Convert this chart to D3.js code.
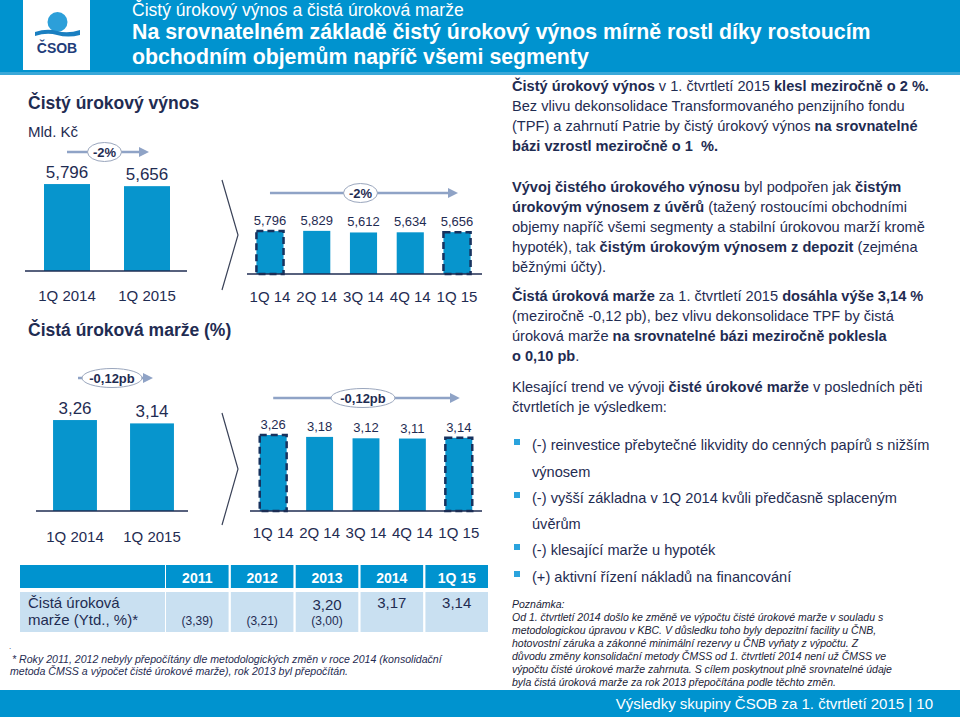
<!DOCTYPE html>
<html>
<head>
<meta charset="utf-8">
<script src="https://cdn.jsdelivr.net/npm/d3@7"></script>
<style>
  body { margin: 0; background: #fff; }
  svg { display: block; font-family: "Liberation Sans", Arial, sans-serif; }
</style>
</head>
<body>
<svg id="slide" width="960" height="717"></svg>
<script>
// --- data ---
var yearCats = ["1Q 2014", "1Q 2015"];
var quarterCats = ["1Q 14", "2Q 14", "3Q 14", "4Q 14", "1Q 15"];
var niiYear = [5.796, 5.656];
var niiQuarter = [5.796, 5.829, 5.612, 5.634, 5.656];
var nimYear = [3.26, 3.14];
var nimQuarter = [3.26, 3.18, 3.12, 3.11, 3.14];
var tableCols = ["2011", "2012", "2013", "2014", "1Q 15"];
var tableMain = [null, null, 3.20, 3.17, 3.14];
var tableOld = [3.39, 3.21, 3.00, null, null];

var BLUE = "#0795cd", NAVY = "#1f2c52", ARROW = "#8fa3c6";

var cz = d3.formatLocale({decimal: ",", thousands: " ", grouping: [3], currency: ["", ""]});
var f3 = cz.format(".3f"), f2 = cz.format(".2f");

var svg = d3.select("#slide");

// arrow head
svg.append("defs").append("marker")
    .attr("id", "head").attr("viewBox", "0 0 10 10")
    .attr("refX", 5).attr("refY", 5)
    .attr("markerWidth", 4).attr("markerHeight", 4)
    .attr("orient", "auto")
  .append("path").attr("d", "M0,0L10,5L0,10Z").attr("fill", ARROW);

// header band
svg.append("rect").attr("x", 0).attr("y", 0).attr("width", 960).attr("height", 75).attr("fill", "#0093cf");
svg.append("rect").attr("x", 0).attr("y", 72).attr("width", 960).attr("height", 3).attr("fill", "#3aa8d8");
svg.append("rect").attr("x", 23).attr("y", 0).attr("width", 67).attr("height", 70).attr("fill", "#fff");
svg.append("circle").attr("cx", 57.5).attr("cy", 22).attr("r", 10).attr("fill", "#2c9fd9");
svg.append("path").attr("d", "M35,32 Q47,28 57,31 Q68,34 80,30 L80,35 Q68,38 57,35 Q47,32 35,36Z").attr("fill", "#1a7fc1");
svg.append("text").attr("x", 57).attr("y", 53).attr("text-anchor", "middle")
    .attr("font-size", 14).attr("font-weight", "bold").attr("fill", "#1f3d7a").text("ČSOB");

svg.append("text").attr("x", 132).attr("y", 16).attr("font-size", 17.5).attr("fill", "#fff")
    .text("Čistý úrokový výnos a čistá úroková marže");
svg.append("text").attr("x", 132).attr("y", 39).attr("font-size", 21.3).attr("font-weight", "bold").attr("fill", "#fff")
    .text("Na srovnatelném základě čistý úrokový výnos mírně rostl díky rostoucím");
svg.append("text").attr("x", 132).attr("y", 64).attr("font-size", 21.3).attr("font-weight", "bold").attr("fill", "#fff")
    .text("obchodním objemům napříč všemi segmenty");

// section titles
svg.append("text").attr("x", 28).attr("y", 109).attr("font-size", 17.5).attr("font-weight", "bold").attr("fill", NAVY)
    .text("Čistý úrokový výnos");
svg.append("text").attr("x", 28).attr("y", 137).attr("font-size", 15).attr("fill", NAVY).text("Mld. Kč");
svg.append("text").attr("x", 28).attr("y", 336).attr("font-size", 17.5).attr("font-weight", "bold").attr("fill", NAVY)
    .text("Čistá úroková marže (%)");

function barChart(o) {
  var g = svg.append("g");
  var x = d3.scaleBand().domain(o.cats).range(o.xr).paddingInner(o.pad).paddingOuter(o.pad / 2);
  var y = d3.scaleLinear().domain([0, o.max]).range([o.base, o.base - o.max * o.k]);

  g.selectAll("rect.bar").data(o.vals).join("rect")
      .attr("class", "bar")
      .attr("x", function (d, i) { return x(o.cats[i]); })
      .attr("y", function (d) { return y(d); })
      .attr("width", x.bandwidth())
      .attr("height", function (d) { return y(0) - y(d); })
      .attr("fill", BLUE)
      .attr("stroke", function (d, i) { return o.dashed.indexOf(i) >= 0 ? "#17325e" : "none"; })
      .attr("stroke-width", 2.5)
      .attr("stroke-dasharray", "7,4");

  g.selectAll("text.val").data(o.vals).join("text")
      .attr("class", "val")
      .attr("x", function (d, i) { return x(o.cats[i]) + x.bandwidth() / 2; })
      .attr("y", function (d) { return y(d) - 6; })
      .attr("text-anchor", "middle").attr("font-size", o.fs).attr("fill", NAVY)
      .text(function (d) { return o.fmt(d); });

  var ax = g.append("g").attr("transform", "translate(0," + o.base + ")")
      .call(d3.axisBottom(x).tickSize(0).tickSizeOuter(0));
  ax.select(".domain").attr("stroke", NAVY).attr("stroke-width", 1.3)
      .attr("d", "M" + o.lineX[0] + ",0H" + o.lineX[1]);
  ax.selectAll(".tick text").attr("y", o.labelY - o.base).attr("dy", 0)
      .attr("font-size", 15).attr("fill", NAVY).attr("font-family", "Liberation Sans, Arial, sans-serif");

  // change arrow
  var x0 = x(o.cats[0]) + x.bandwidth() / 2, x1 = x(o.cats[o.cats.length - 1]) + x.bandwidth() / 2;
  var ax0 = o.arrowX ? o.arrowX[0] : x0, ax1 = o.arrowX ? o.arrowX[1] : x1;
  g.append("line").attr("x1", ax0).attr("x2", ax1 - 4).attr("y1", o.arrowY).attr("y2", o.arrowY)
      .attr("stroke", ARROW).attr("stroke-width", 2.5).attr("marker-end", "url(#head)");
  var mid = (ax0 + ax1) / 2 - 3;
  g.append("ellipse").attr("cx", mid).attr("cy", o.arrowY).attr("rx", o.rx).attr("ry", 9.5)
      .attr("fill", "#fff").attr("stroke", "#9aa6bd").attr("stroke-width", 1);
  g.append("text").attr("x", mid).attr("y", o.arrowY + 4.5).attr("text-anchor", "middle")
      .attr("font-size", 13).attr("font-weight", "bold").attr("fill", NAVY).text(o.change);
}

barChart({cats: yearCats, vals: niiYear, xr: [27, 187], pad: 0.425, max: 6, k: 15, base: 271,
  dashed: [], fmt: f3, fs: 17, lineX: [25, 187], labelY: 301, arrowY: 152, rx: 17, change: "-2%",
  arrowX: [67, 148]});
barChart({cats: quarterCats, vals: niiQuarter, xr: [246.6, 480.4], pad: 0.42, max: 6, k: 7.4, base: 274,
  dashed: [0, 4], fmt: f3, fs: 13, lineX: [247, 482], labelY: 302, arrowY: 193, rx: 17, change: "-2%"});
barChart({cats: yearCats, vals: nimYear, xr: [36.5, 190.5], pad: 0.43, max: 3.5, k: 27.9, base: 511,
  dashed: [], fmt: f2, fs: 17, lineX: [36, 188], labelY: 542, arrowY: 378, rx: 30, change: "-0,12pb",
  arrowX: [78, 152]});
barChart({cats: quarterCats, vals: nimQuarter, xr: [250, 482], pad: 0.42, max: 3.5, k: 23.3, base: 511,
  dashed: [0, 4], fmt: f2, fs: 13, lineX: [250, 482], labelY: 538, arrowY: 398, rx: 32, change: "-0,12pb"});

// chevrons
[[180, 290], [413, 525]].forEach(function (c) {
  svg.append("path").attr("d", "M222," + c[0] + "L238," + (c[0] + c[1]) / 2 + "L222," + c[1])
      .attr("fill", "none").attr("stroke", "#3a4258").attr("stroke-width", 1.2);
});

// table
var colX = d3.scaleBand().domain(tableCols).range([166, 488]).paddingInner(0.035);
svg.append("rect").attr("x", 20).attr("y", 565).attr("width", 145).attr("height", 23).attr("fill", "#0093cf");
svg.append("rect").attr("x", 20).attr("y", 592).attr("width", 145).attr("height", 40).attr("fill", "#c9e0f1");
svg.selectAll("rect.th").data(tableCols).join("rect").attr("class", "th")
    .attr("x", function (d) { return colX(d); }).attr("y", 565)
    .attr("width", colX.bandwidth()).attr("height", 23).attr("fill", "#0093cf");
svg.selectAll("rect.td").data(tableCols).join("rect").attr("class", "td")
    .attr("x", function (d) { return colX(d); }).attr("y", 592)
    .attr("width", colX.bandwidth()).attr("height", 40).attr("fill", "#c9e0f1");
svg.selectAll("text.th").data(tableCols).join("text").attr("class", "th")
    .attr("x", function (d) { return colX(d) + colX.bandwidth() / 2; }).attr("y", 583)
    .attr("text-anchor", "middle").attr("font-size", 14).attr("font-weight", "bold").attr("fill", "#fff")
    .text(function (d) { return d; });
svg.append("text").attr("x", 28).attr("y", 608).attr("font-size", 15).attr("fill", NAVY).text("Čistá úroková");
svg.append("text").attr("x", 28).attr("y", 625).attr("font-size", 15).attr("fill", NAVY).text("marže (Ytd., %)*");
tableCols.forEach(function (c, i) {
  var cx = colX(c) + colX.bandwidth() / 2;
  if (tableMain[i] != null) {
    svg.append("text").attr("x", cx).attr("y", tableOld[i] != null ? 610 : 608).attr("text-anchor", "middle")
        .attr("font-size", 15).attr("fill", NAVY).text(f2(tableMain[i]));
  }
  if (tableOld[i] != null) {
    svg.append("text").attr("x", cx).attr("y", 625).attr("text-anchor", "middle")
        .attr("font-size", 12).attr("fill", NAVY).text("(" + f2(tableOld[i]) + ")");
  }
});

svg.append("text").attr("x", 9).attr("y", 649).attr("font-size", 8).attr("fill", NAVY).text(".");
svg.append("text").attr("x", 12).attr("y", 663).attr("font-size", 10.6).attr("font-style", "italic").attr("fill", NAVY)
    .text("* Roky 2011, 2012 nebyly přepočítány dle metodologických změn v roce 2014 (konsolidační");
svg.append("text").attr("x", 10).attr("y", 675).attr("font-size", 10.6).attr("font-style", "italic").attr("fill", NAVY)
    .text("metoda ČMSS a výpočet čisté úrokové marže), rok 2013 byl přepočítán.");

// right-hand commentary
function rich(x, y, segs, size) {
  var t = svg.append("text").attr("x", x).attr("y", y).attr("font-size", size || 14.6)
      .attr("fill", NAVY).style("white-space", "pre");
  segs.forEach(function (s) {
    t.append("tspan").attr("font-weight", s[1] ? "bold" : "normal").text(s[0]);
  });
}
var L = 512;
rich(L, 91, [["Čistý úrokový výnos", 1], [" v 1. čtvrtletí 2015 ", 0], ["klesl meziročně o 2 %.", 1]]);
rich(L, 111, [["Bez vlivu dekonsolidace Transformovaného penzijního fondu", 0]]);
rich(L, 131, [["(TPF) a zahrnutí Patrie by čistý úrokový výnos ", 0], ["na srovnatelné", 1]]);
rich(L, 151, [["bázi vzrostl meziročně o 1  %.", 1]]);
rich(L, 192, [["Vývoj čistého úrokového výnosu", 1], [" byl podpořen jak ", 0], ["čistým", 1]]);
rich(L, 212, [["úrokovým výnosem z úvěrů", 1], [" (tažený rostoucími obchodními", 0]]);
rich(L, 232, [["objemy napříč všemi segmenty a stabilní úrokovou marží kromě", 0]]);
rich(L, 252, [["hypoték), tak ", 0], ["čistým úrokovým výnosem z depozit", 1], [" (zejména", 0]]);
rich(L, 272, [["běžnými účty).", 0]]);
rich(L, 301, [["Čistá úroková marže", 1], [" za 1. čtvrtletí 2015 ", 0], ["dosáhla výše 3,14 %", 1]]);
rich(L, 321, [["(meziročně -0,12 pb), bez vlivu dekonsolidace TPF by čistá", 0]]);
rich(L, 341, [["úroková marže ", 0], ["na srovnatelné bázi meziročně poklesla", 1]]);
rich(L, 361, [["o 0,10 pb", 1], [".", 0]]);
rich(L, 392, [["Klesající trend ve vývoji ", 0], ["čisté úrokové marže", 1], [" v posledních pěti", 0]]);
rich(L, 412, [["čtvrtletích je výsledkem:", 0]]);

var bullets = [
  [450, "(-) reinvestice přebytečné likvidity do cenných papírů s nižším", true],
  [477, "výnosem", false],
  [503, "(-) vyšší základna v 1Q 2014 kvůli předčasně splaceným", true],
  [529, "úvěrům", false],
  [555, "(-) klesající marže u hypoték", true],
  [582, "(+) aktivní řízení nákladů na financování", true]
];
bullets.forEach(function (b) {
  if (b[2]) svg.append("rect").attr("x", 514).attr("y", b[0] - 11).attr("width", 6).attr("height", 6).attr("fill", "#2aa3dd");
  rich(532, b[0], [[b[1], 0]]);
});

var note = [
  "Poznámka:",
  "Od 1. čtvrtletí 2014 došlo ke změně ve výpočtu čisté úrokové marže v souladu s",
  "metodologickou úpravou v KBC. V důsledku toho byly depozitní facility u ČNB,",
  "hotovostní záruka a zákonné minimální rezervy u ČNB vyňaty z výpočtu. Z",
  "důvodu změny konsolidační metody ČMSS od 1. čtvrtletí 2014 není už ČMSS ve",
  "výpočtu čisté úrokové marže zahrnuta. S cílem poskytnout plně srovnatelné údaje",
  "byla čistá úroková marže za rok 2013 přepočítána podle těchto změn."
];
note.forEach(function (s, i) {
  svg.append("text").attr("x", 512).attr("y", 608 + i * 13).attr("font-size", 10.5)
      .attr("font-style", "italic").attr("fill", "#1a2236").text(s);
});

// footer
svg.append("rect").attr("x", 0).attr("y", 690).attr("width", 960).attr("height", 27).attr("fill", "#0093cf");
svg.append("text").attr("x", 933).attr("y", 709).attr("text-anchor", "end").attr("font-size", 15)
    .attr("fill", "#fff").text("Výsledky skupiny ČSOB za 1. čtvrtletí 2015 | 10");
</script>
</body>
</html>
